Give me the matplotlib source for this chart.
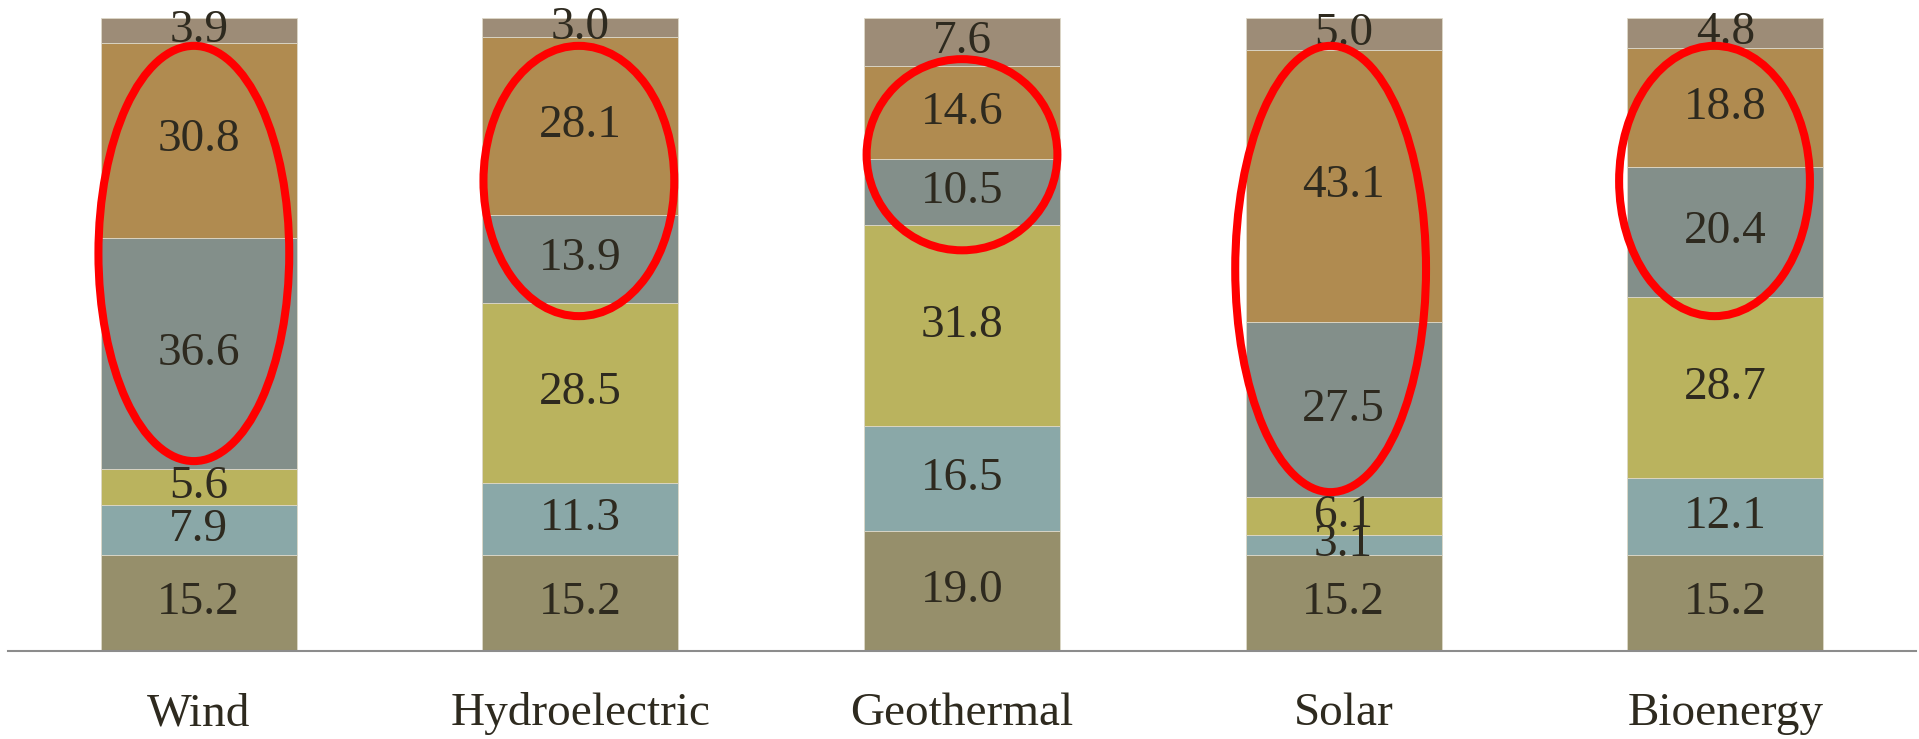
import numpy as np
import matplotlib
matplotlib.use("Agg")
import matplotlib.pyplot as plt
from matplotlib.patches import Ellipse

plt.rcParams['font.family'] = ['Liberation Serif', 'DejaVu Serif']

# share of each source, stacked bottom to top
sources = ['Wind', 'Hydroelectric', 'Geothermal', 'Solar', 'Bioenergy']
seg1 = [15.2, 15.2, 19.0, 15.2, 15.2]
seg2 = [7.9, 11.3, 16.5, 3.1, 12.1]
seg3 = [5.6, 28.5, 31.8, 6.1, 28.7]
seg4 = [36.6, 13.9, 10.5, 27.5, 20.4]
seg5 = [30.8, 28.1, 14.6, 43.1, 18.8]
seg6 = [3.9, 3.0, 7.6, 5.0, 4.8]

colors = ['#968f6b', '#8aa8a8', '#bab35e', '#838f8a', '#b08b50', '#9d8c77']
text_color = '#2e2a1f'

# red rings drawn over the bars (value range, small sideways shift)
ring_lo = [30.0, 52.9, 63.3, 25.1, 52.9]
ring_hi = [95.6, 95.6, 93.5, 95.6, 95.6]
ring_dx = [-0.013, -0.004, 0.0, -0.034, -0.028]

fig = plt.figure(figsize=(19.19, 7.39), dpi=100)
ax = fig.add_axes([8 / 1919, 88 / 739, 1908 / 1919, 633 / 739])

x = np.arange(len(sources))
bottom = np.zeros(len(sources))
for vals, c in zip([seg1, seg2, seg3, seg4, seg5, seg6], colors):
    vals = np.array(vals)
    ax.bar(x, vals, width=0.514, bottom=bottom, color=c,
           edgecolor='#ddd8c8', linewidth=0.6)
    for xi, b, v in zip(x, bottom, vals):
        ax.text(xi, b + v / 2, f'{v:.1f}', ha='center', va='center',
                fontsize=34, color=text_color)
    bottom += vals

for xi, lo, hi, dx in zip(x, ring_lo, ring_hi, ring_dx):
    ax.add_patch(Ellipse((xi + dx, (lo + hi) / 2), 0.5, hi - lo,
                         fill=False, edgecolor='#ff0000', linewidth=5.8,
                         clip_on=False, zorder=5))

for xi, name in zip(x, sources):
    ax.text(xi, -74 / 633, name, transform=ax.get_xaxis_transform(),
            ha='center', va='baseline', fontsize=34, color=text_color)

ax.set_xlim(-0.5, 4.5)
ax.set_ylim(0, 100)
ax.set_xticks([])
ax.set_yticks([])
for side in ['top', 'right', 'left']:
    ax.spines[side].set_visible(False)
ax.spines['bottom'].set_color('#8c8c8c')
ax.spines['bottom'].set_linewidth(1.5)

fig.savefig('out.png', dpi=100)
